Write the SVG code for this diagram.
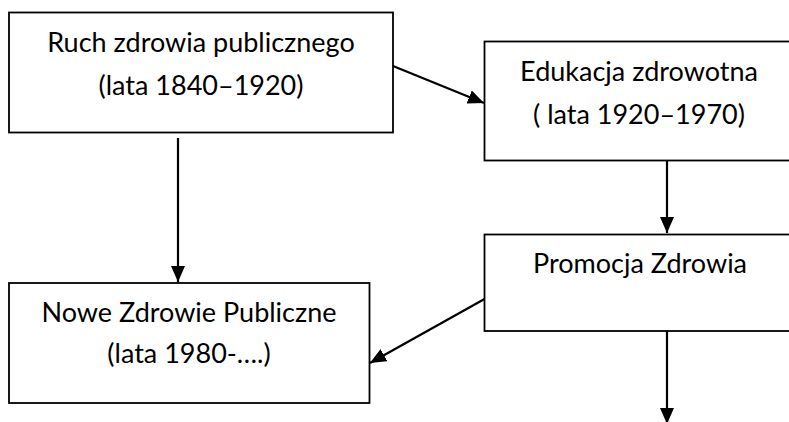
<svg xmlns="http://www.w3.org/2000/svg" width="789" height="422" viewBox="0 0 789 422">
<defs>
<style>
.box{fill:#fff;stroke:#000;stroke-width:1.8}
.t{font-family:Lato,"Liberation Sans",sans-serif;font-size:27px;fill:#000;text-anchor:middle}
.c{stroke:#000;stroke-width:2.2;fill:none;marker-end:url(#ah)}
</style>
<marker id="ah" markerUnits="userSpaceOnUse" markerWidth="17" markerHeight="14" refX="16" refY="7" orient="auto">
<path d="M0,0 L16,7 L0,14 Z" fill="#000"/>
</marker>
</defs>
<rect width="789" height="422" fill="#fff"/>
<g id="n1">
<rect class="box" x="9" y="12.5" width="384" height="120"/>
<text class="t" x="201" y="52">Ruch zdrowia publicznego</text>
<text class="t" x="201" y="95">(lata 1840–1920)</text>
</g>
<g id="n2">
<rect class="box" x="484.5" y="41.5" width="310" height="119"/>
<text class="t" x="639" y="81">Edukacja zdrowotna</text>
<text class="t" x="639" y="124">( lata 1920–1970)</text>
</g>
<g id="n3">
<rect class="box" x="484.5" y="234.5" width="310" height="96.5"/>
<text class="t" x="640" y="273">Promocja Zdrowia</text>
</g>
<g id="n4">
<rect class="box" x="9" y="283" width="360.5" height="120"/>
<text class="t" x="189" y="322">Nowe Zdrowie Publiczne</text>
<text class="t" x="189" y="363">(lata 1980-….)</text>
</g>
<g id="connectors">
<line class="c" x1="393" y1="66" x2="484" y2="103"/>
<line class="c" x1="178" y1="138" x2="178" y2="282"/>
<line class="c" x1="667" y1="161" x2="667" y2="233"/>
<line class="c" x1="484.5" y1="299" x2="370" y2="363"/>
<line class="c" x1="667" y1="331" x2="667" y2="424"/>
</g>
</svg>
